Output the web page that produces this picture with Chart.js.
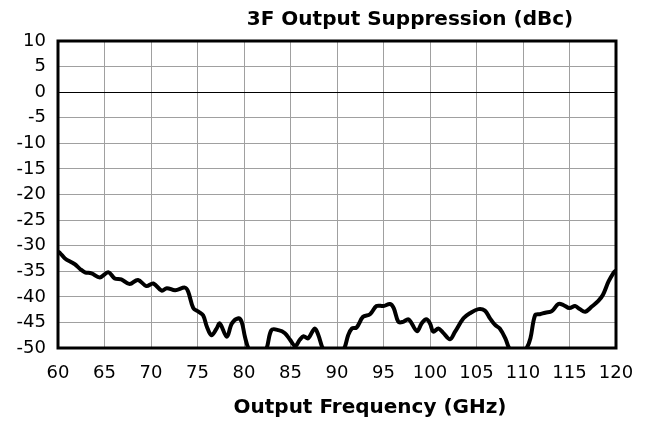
<!DOCTYPE html>
<html>
<head>
<meta charset="utf-8">
<script src="https://cdn.jsdelivr.net/npm/chart.js@4/dist/chart.umd.min.js"></script>
<style>
html,body{margin:0;padding:0;background:#fff;}
#wrap{width:655px;height:423px;position:relative;}
</style>
</head>
<body>
<div id="wrap"><canvas id="c" width="655" height="423"></canvas></div>
<script>
const chartTitle = "3F Output Suppression (dBc)";
const xTitle = "Output Frequency (GHz)";
const yTicks = [10, 5, 0, -5, -10, -15, -20, -25, -30, -35, -40, -45, -50];
const xTicks = [60, 65, 70, 75, 80, 85, 90, 95, 100, 105, 110, 115, 120];

const freqGHz = [
  60, 60.2, 60.75, 61.5, 61.8, 62.4, 62.9, 63.6, 64.5, 65.4, 66.1, 66.8, 67.7, 68.6, 69.5, 70.25,
  71.15, 71.7, 72.6, 73.65, 74.0, 74.55, 75.1, 75.6, 76.0, 76.5, 77.05, 77.4, 78.15, 78.7, 79.4,
  79.75, 80.1, 80.5, 81.4, 82.4, 82.95, 83.7, 84.4, 84.95, 85.5, 86.0, 86.4, 86.9, 87.6, 88.0,
  88.5, 89.6, 90.75, 91.2, 91.6, 92.1, 92.8, 93.55, 94.25, 95.0, 95.7, 96.1, 96.6, 97.1, 97.7,
  98.6, 99.1, 99.6, 100.0, 100.35, 100.9, 101.4, 102.15, 102.7, 103.6, 104.3, 105.2, 105.9,
  106.45, 107.0, 107.5, 108.1, 108.5, 109.4, 110.4, 110.8, 111.3, 111.8, 112.4, 113.1, 113.8,
  114.35, 115.0, 115.6, 116.1, 116.7, 117.4, 118.1, 118.6, 119.2, 119.7, 120
];
const suppressionDBc = [
  -31.2, -31.4, -32.5, -33.3, -33.6, -34.6, -35.2, -35.4, -36.2, -35.2, -36.4, -36.6, -37.5, -36.7, -37.9, -37.4,
  -38.8, -38.3, -38.7, -38.2, -39.0, -42.2, -42.9, -43.6, -45.8, -47.5, -46.2, -45.2, -47.8, -45.2, -44.2,
  -44.9, -47.8, -50.2, -53.0, -50.2, -46.5, -46.5, -47.1, -48.4, -49.6, -48.4, -47.7, -48.1, -46.2, -47.5,
  -50.2, -53.0, -50.2, -47.5, -46.2, -46.0, -43.9, -43.4, -41.8, -41.8, -41.4, -42.2, -44.9, -44.9, -44.4,
  -46.7, -45.2, -44.4, -45.2, -46.8, -46.2, -47.0, -48.3, -46.8, -44.2, -43.2, -42.4, -42.7,
  -44.2, -45.5, -46.2, -48.1, -50.0, -52.5, -50.0, -48.1, -43.6, -43.4, -43.1, -42.8, -41.4,
  -41.6, -42.2, -41.8, -42.4, -42.9, -41.9, -40.8, -39.6, -37.0, -35.4, -34.8
];

const FONT = "'DejaVu Sans', sans-serif";

const framePlugin = {
  id: 'frame',
  afterDatasetsDraw(chart) {
    const {ctx, chartArea: a} = chart;
    ctx.save();
    ctx.strokeStyle = '#000';
    ctx.lineWidth = 3;
    ctx.strokeRect(a.left, a.top, a.right - a.left, a.bottom - a.top);
    ctx.restore();
  },
  afterDraw(chart) {
    const {ctx} = chart;
    ctx.save();
    ctx.fillStyle = '#000';
    ctx.font = "bold 20px " + FONT;
    ctx.textAlign = 'center';
    ctx.textBaseline = 'middle';
    ctx.fillText(chartTitle, 410, 20);
    ctx.fillText(xTitle, 370, 408);
    ctx.restore();
  }
};

new Chart(document.getElementById('c'), {
  type: 'line',
  data: {
    datasets: [{
      data: freqGHz.map((f, i) => ({x: f, y: suppressionDBc[i]})),
      borderColor: '#000',
      borderWidth: 4,
      pointRadius: 0,
      tension: 0.35,
      fill: false
    }]
  },
  options: {
    responsive: false,
    animation: false,
    devicePixelRatio: 1,
    layout: {padding: {left: 0, right: 39, top: 41, bottom: 0}},
    plugins: {legend: {display: false}, title: {display: false}, tooltip: {enabled: false}},
    scales: {
      x: {
        type: 'linear',
        min: 60, max: 120,
        afterBuildTicks(s) { s.ticks = xTicks.map(v => ({value: v})); },
        afterFit(s) { s.height = 75; },
        grid: {color: '#a0a0a0', lineWidth: 1, drawTicks: false},
        border: {display: false},
        ticks: {color: '#000', font: {family: FONT, size: 18}, padding: 15, maxRotation: 0, autoSkip: false}
      },
      y: {
        type: 'linear',
        min: -50, max: 10,
        afterBuildTicks(s) { s.ticks = yTicks.map(v => ({value: v})); },
        afterFit(s) { s.width = 58; },
        grid: {
          color: ctx => (ctx.tick && ctx.tick.value === 0) ? '#000' : '#a0a0a0',
          lineWidth: 1, drawTicks: false
        },
        border: {display: false},
        ticks: {color: '#000', font: {family: FONT, size: 18}, padding: 12, autoSkip: false}
      }
    }
  },
  plugins: [framePlugin]
});
</script>
</body>
</html>
